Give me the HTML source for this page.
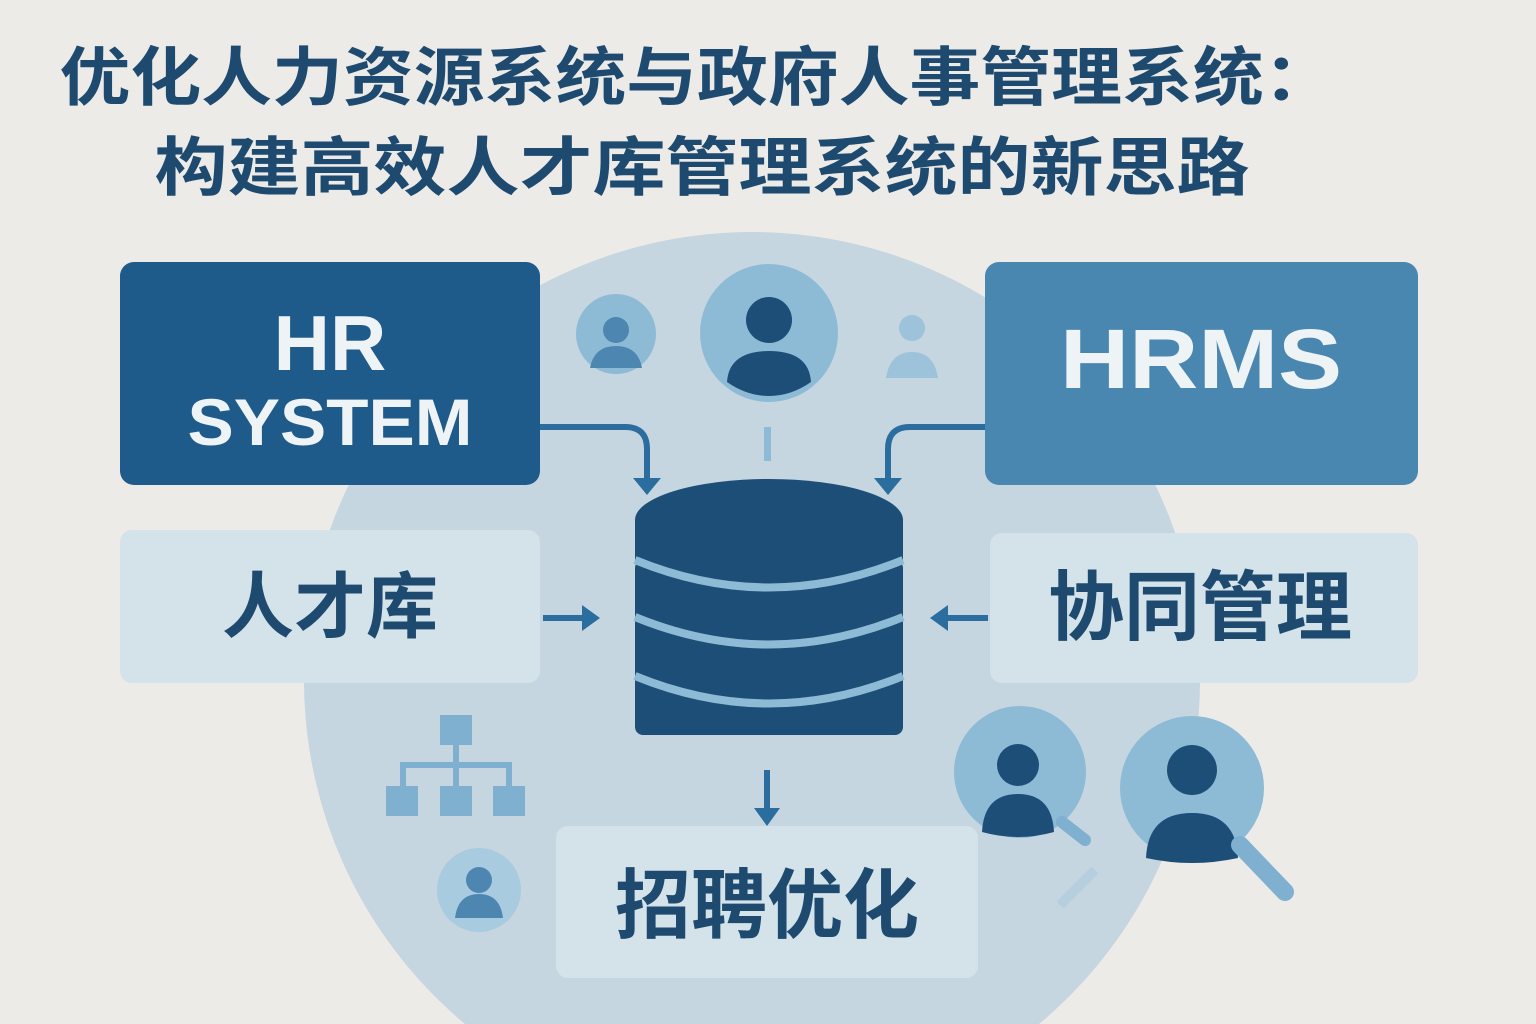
<!DOCTYPE html>
<html><head><meta charset="utf-8"><style>
html,body{margin:0;padding:0;background:#ecebe8;width:1536px;height:1024px;overflow:hidden}
svg{display:block}
text{font-family:"Liberation Sans","Noto Sans CJK SC",sans-serif;font-weight:bold}
</style></head><body>
<svg width="1536" height="1024" viewBox="0 0 1536 1024" xmlns="http://www.w3.org/2000/svg">
<rect width="1536" height="1024" fill="#ecebe8"/>
<text x="697" y="100" font-size="64" fill="#1d4a6e" text-anchor="middle" textLength="1275" lengthAdjust="spacingAndGlyphs">优化人力资源系统与政府人事管理系统：</text>
<text x="702" y="190" font-size="64" fill="#1d4a6e" text-anchor="middle" textLength="1095" lengthAdjust="spacingAndGlyphs">构建高效人才库管理系统的新思路</text>
<path d="M465 1024 A448 448 0 1 1 1039 1024 Z" fill="#c5d6e0"/>
<circle cx="616" cy="334" r="40" fill="#8dbbd6"/>
<circle cx="616" cy="330" r="13" fill="#4d86b0"/>
<path d="M590 368 q4-22 26-22 q22 0 26 22 z" fill="#4d86b0"/>
<circle cx="769" cy="333" r="69" fill="#8dbbd6"/>
<circle cx="769" cy="320" r="23" fill="#1c4e78"/>
<path d="M727 382 q2-31 42-31 q40 0 42 31 q-20 14-42 14 q-22 0-42-14z" fill="#1c4e78"/>
<circle cx="912" cy="328" r="13" fill="#9cc3da"/>
<path d="M886 378 q4-26 26-26 q22 0 26 26 z" fill="#9cc3da"/>
<rect x="764" y="427" width="7" height="34" fill="#8dbbd6"/>
<rect x="120" y="262" width="420" height="223" rx="14" fill="#1e5a8a"/>
<text x="330" y="370" font-size="78" fill="#eef3f6" text-anchor="middle">HR</text>
<text x="330" y="445" font-size="66" fill="#eef3f6" text-anchor="middle" textLength="285" lengthAdjust="spacingAndGlyphs">SYSTEM</text>
<rect x="985" y="262" width="433" height="223" rx="14" fill="#4a87b0"/>
<text x="1201" y="388" font-size="84" fill="#eef3f6" text-anchor="middle" textLength="282" lengthAdjust="spacingAndGlyphs">HRMS</text>
<rect x="120" y="530" width="420" height="153" rx="12" fill="#d4e2ea"/>
<text x="330" y="632" font-size="72" fill="#1d4a6e" text-anchor="middle">人才库</text>
<rect x="990" y="533" width="428" height="150" rx="12" fill="#d4e2ea"/>
<text x="1200" y="634" font-size="76" fill="#1d4a6e" text-anchor="middle">协同管理</text>
<rect x="556" y="826" width="422" height="152" rx="12" fill="#d4e2ea"/>
<text x="767" y="932" font-size="76" fill="#1d4a6e" text-anchor="middle">招聘优化</text>
<g fill="none" stroke="#2a6d9e" stroke-width="6">
<path d="M540 427 H625 q22 0 22 22 V478"/>
<path d="M985 427 H910 q-22 0-22 22 V478"/>
<path d="M543 618 H585"/>
<path d="M988 618 H945"/>
<path d="M767 770 V812"/>
</g>
<g fill="#2a6d9e">
<path d="M633 478 h28 l-14 17z"/>
<path d="M874 478 h28 l-14 17z"/>
<path d="M582 605 v26 l18-13z"/>
<path d="M948 605 v26 l-18-13z"/>
<path d="M754 808 h26 l-13 18z"/>
</g>
<g fill="#1c4e78">
<rect x="635" y="560" width="268" height="175" rx="8"/>
<ellipse cx="769" cy="520" rx="134" ry="41"/>
<rect x="635" y="520" width="268" height="40"/>
</g>
<g fill="none" stroke="#8dbbd6" stroke-width="8">
<path d="M635 560 q134 55 268 0"/>
<path d="M635 617 q134 55 268 0"/>
<path d="M635 676 q134 55 268 0"/>
</g>
<g fill="#7fb0cf">
<rect x="440" y="715" width="32" height="30"/>
<rect x="453" y="745" width="6" height="20"/>
<rect x="400" y="762" width="112" height="6"/>
<rect x="400" y="762" width="6" height="25"/><rect x="506" y="762" width="6" height="25"/><rect x="453" y="762" width="6" height="25"/>
<rect x="386" y="786" width="32" height="30"/><rect x="440" y="786" width="32" height="30"/><rect x="493" y="786" width="32" height="30"/>
</g>
<circle cx="479" cy="890" r="42" fill="#a8cbe0"/>
<circle cx="479" cy="880" r="13" fill="#4d86b0"/>
<path d="M455 918 q3-24 24-24 q21 0 24 24 z" fill="#4d86b0"/>
<circle cx="1020" cy="772" r="66" fill="#8dbbd6"/>
<circle cx="1018" cy="765" r="21" fill="#1c4e78"/>
<path d="M982 832 q2-38 36-38 q34 0 36 38 q-36 10-72 0z" fill="#1c4e78"/>
<line x1="1062" y1="822" x2="1085" y2="840" stroke="#7fb0cf" stroke-width="12" stroke-linecap="round"/>
<circle cx="1192" cy="788" r="72" fill="#8dbbd6"/>
<circle cx="1192" cy="770" r="25" fill="#1c4e78"/>
<path d="M1146 858 q2-45 46-45 q44 0 46 45 q-46 10-92 0z" fill="#1c4e78"/>
<line x1="1240" y1="845" x2="1285" y2="892" stroke="#7fb0cf" stroke-width="18" stroke-linecap="round"/>
<line x1="1060" y1="905" x2="1095" y2="870" stroke="#b5cfdf" stroke-width="10"/>
</svg>
</body></html>
